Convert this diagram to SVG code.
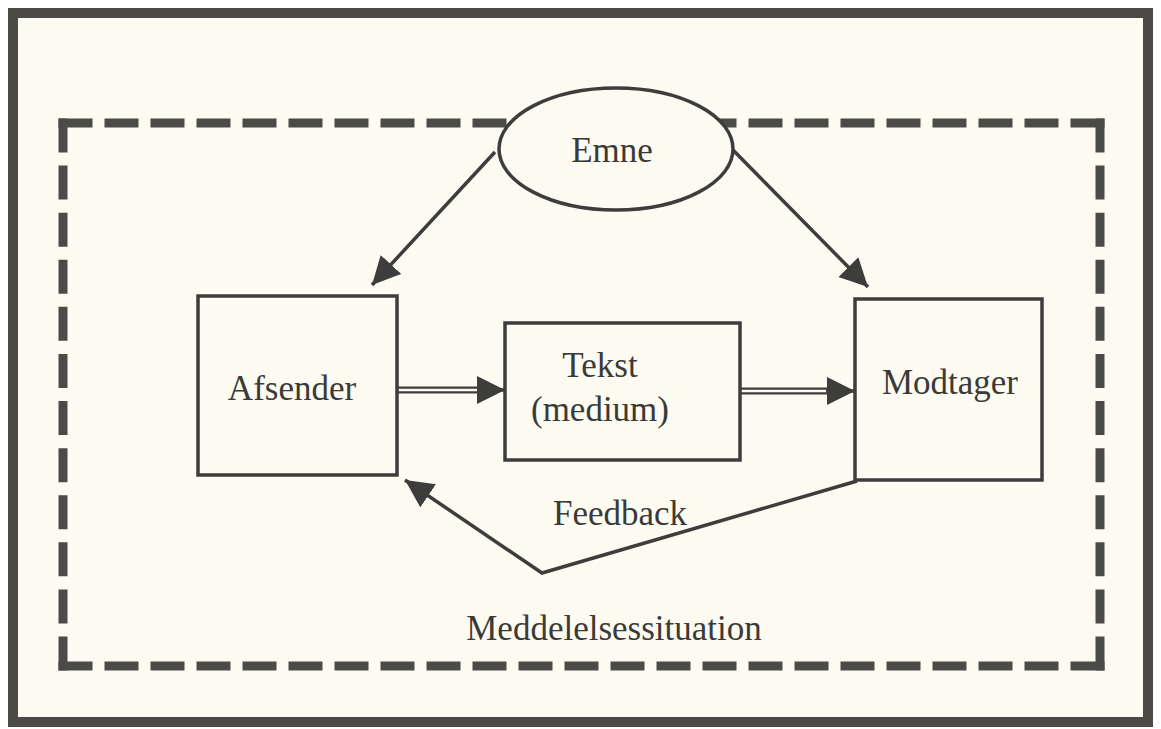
<svg xmlns="http://www.w3.org/2000/svg" width="1161" height="729" viewBox="0 0 1161 729">
  <style>
    .t { font-family: "Liberation Serif", "Times New Roman", serif; font-size: 35px; fill: #3a3a38; text-anchor: middle; }
    .box { fill: none; stroke: #3d3d3b; stroke-width: 3.5; }
    .dash { stroke: #4a4a47; stroke-width: 9; fill: none; }
    .ln { stroke: #3d3d3b; stroke-width: 3.5; fill: none; }
    .dbl { stroke: #3d3d3b; stroke-width: 7; fill: none; }
    .dblin { stroke: #fcfaf1; stroke-width: 2.5; fill: none; }
  </style>
  <defs>
    <marker id="ah" markerUnits="userSpaceOnUse" markerWidth="30" markerHeight="30" refX="28" refY="14" orient="auto">
      <path d="M0,0 L28,14 L0,28 Z" fill="#3d3d3b"/>
    </marker>
  </defs>
  <rect x="0" y="0" width="1161" height="729" fill="#ffffff"/>
  <rect id="frame" x="13" y="13" width="1135" height="709" fill="#fcfaf1" stroke="#4b4a47" stroke-width="10"/>

  <g id="situation">
    <line class="dash" x1="58.5" y1="123" x2="1104.5" y2="123" stroke-dasharray="34 12"/>
    <line class="dash" x1="58.5" y1="666" x2="1104.5" y2="666" stroke-dasharray="34 12"/>
    <line class="dash" x1="63" y1="118.5" x2="63" y2="670.5" stroke-dasharray="34 13.09"/>
    <line class="dash" x1="1100" y1="118.5" x2="1100" y2="670.5" stroke-dasharray="34 13.09"/>
    <text class="t" x="614" y="640">Meddelelsessituation</text>
  </g>

  <g id="connectors">
    <line class="ln" x1="495" y1="152" x2="372" y2="285" marker-end="url(#ah)"/>
    <line class="ln" x1="733" y1="150" x2="868" y2="287" marker-end="url(#ah)"/>
    <line class="dbl" x1="397" y1="390" x2="482" y2="390"/>
    <line class="dblin" x1="397" y1="390" x2="480" y2="390"/>
    <line class="ln" x1="478" y1="390" x2="505" y2="390" stroke-width="0.1" marker-end="url(#ah)"/>
    <line class="dbl" x1="740" y1="391" x2="830" y2="391"/>
    <line class="dblin" x1="740" y1="391" x2="828" y2="391"/>
    <line class="ln" x1="826" y1="391" x2="855" y2="391" stroke-width="0.1" marker-end="url(#ah)"/>
    <polyline class="ln" points="857,481 542,573 405,480" marker-end="url(#ah)"/>
    <text class="t" x="620" y="525">Feedback</text>
  </g>

  <g id="emne">
    <ellipse cx="616" cy="149" rx="117" ry="61" fill="#fcfaf1" stroke="#3d3d3b" stroke-width="3.5"/>
    <text class="t" x="612" y="162">Emne</text>
  </g>

  <g id="afsender">
    <rect class="box" x="198" y="296" width="199" height="179"/>
    <text class="t" x="292" y="400">Afsender</text>
  </g>

  <g id="tekst">
    <rect class="box" x="505" y="323" width="235" height="137"/>
    <text class="t" x="600" y="377">Tekst</text>
    <text class="t" x="600" y="421">(medium)</text>
  </g>

  <g id="modtager">
    <rect class="box" x="855" y="299" width="187" height="181"/>
    <text class="t" x="950" y="394">Modtager</text>
  </g>
</svg>
